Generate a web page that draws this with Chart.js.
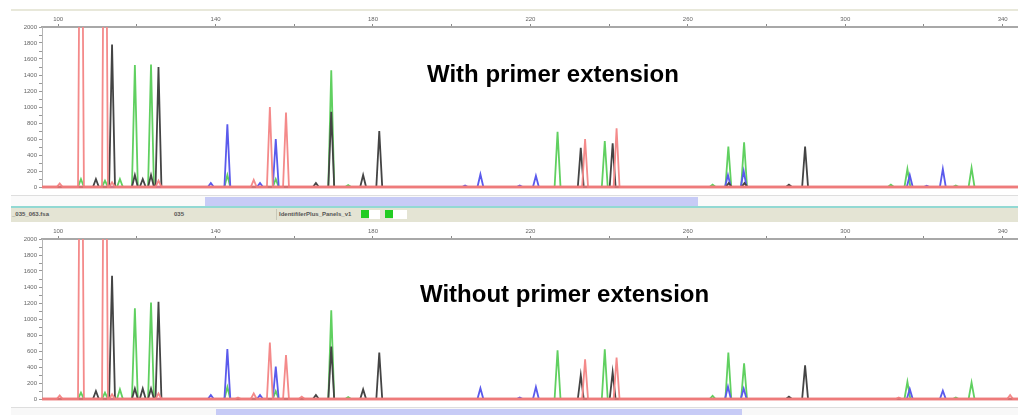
<!DOCTYPE html>
<html>
<head>
<meta charset="utf-8">
<script src="https://cdn.jsdelivr.net/npm/chart.js@4/dist/chart.umd.min.js"></script>
<style>
    body { margin: 0; background: #fff; font-family: "Liberation Sans", Arial, sans-serif; }
    #page { position: relative; width: 1018px; height: 415px; overflow: hidden; }
    canvas { position: absolute; left: 0; }
    .bar { position: absolute; }
    .title { position: absolute; font-size: 24px; line-height: 24px; font-weight: bold; color: #000; white-space: nowrap; }
    .info { position: absolute; top: 210px; font-size: 6px; line-height: 9px; font-weight: bold; color: #555; white-space: nowrap; }
</style>
</head>
<body>
<div id="page">
    <div class="bar" style="left:11px;top:9px;width:1007px;height:2px;background:#e8e8da"></div>
    <canvas id="withChart" width="1018" height="184" style="top:11px"></canvas>

    <div class="bar" style="left:11px;top:195px;width:1007px;height:11px;background:#fafafa;border-top:1px solid #dedede"></div>
    <div class="bar" style="left:205px;top:197px;width:493px;height:9px;background:#c7cbf6"></div>
    <div class="bar" style="left:11px;top:206px;width:1007px;height:2px;background:#92d9d3"></div>
    <div class="bar" style="left:11px;top:208px;width:1007px;height:14px;background:#e4e4d4"></div>
    <div class="bar" style="left:276px;top:209px;width:1px;height:11px;background:#c8c8b8"></div>
    <span class="info" style="left:12px">_035_063.fsa</span>
    <span class="info" style="left:174px">035</span>
    <span class="info" style="left:279px">IdentifilerPlus_Panels_v1</span>
    <div class="bar" style="left:361px;top:210px;width:8px;height:8px;background:#22cc22"></div>
    <div class="bar" style="left:369px;top:210px;width:11px;height:9px;background:#fff"></div>
    <div class="bar" style="left:385px;top:210px;width:8px;height:8px;background:#22cc22"></div>
    <div class="bar" style="left:393px;top:210px;width:14px;height:9px;background:#fff"></div>

    <canvas id="withoutChart" width="1018" height="183" style="top:222px"></canvas>

    <div class="bar" style="left:11px;top:407px;width:1007px;height:8px;background:#f8f8f8;border-top:1px solid #dedede"></div>
    <div class="bar" style="left:216px;top:409px;width:526px;height:6px;background:#c7cbf6"></div>

    <div class="title" style="left:427px;top:62px">With primer extension</div>
    <div class="title" style="left:420px;top:282px">Without primer extension</div>
</div>

<script>
// size range (bp) and ticks
var X_MIN = 95.9;
var X_MAX = 343.9;
var xTicks = [100, 120, 140, 160, 180, 200, 220, 240, 260, 280, 300, 320, 340];
var xLabels = [100, 140, 180, 220, 260, 300, 340];
var yTicks = [0, 100, 200, 300, 400, 500, 600, 700, 800, 900, 1000,
    1100, 1200, 1300, 1400, 1500, 1600, 1700, 1800, 1900, 2000];
var yLabels = [0, 200, 400, 600, 800, 1000, 1200, 1400, 1600, 1800, 2000];

// peaks [size, height] - with primer extension
var withRed = [[100.4, 45], [105.8, 6000], [111.9, 6000], [113.7, 60], [125.5, 80], [149.7, 90],
    [153.8, 1000], [157.9, 930], [233.9, 600], [241.9, 735]];
var withGreen = [[105.8, 100], [111.9, 80], [115.7, 100], [119.5, 1525], [123.6, 1530], [143.0, 150],
    [155.3, 100], [169.4, 1460], [173.7, 25], [226.9, 690], [238.9, 575], [266.3, 30], [270.3, 505],
    [274.3, 560], [311.6, 30], [315.8, 225], [328.1, 20], [332.1, 240]];
var withBlack = [[109.6, 100], [113.7, 1780], [119.5, 150], [121.5, 100], [123.6, 150], [125.5, 1500],
    [165.5, 50], [169.4, 940], [177.5, 150], [181.6, 700], [232.8, 490], [240.9, 545], [270.4, 50],
    [274.4, 50], [285.7, 30], [289.8, 505]];
var withBlue = [[138.8, 50], [143.0, 785], [151.3, 50], [155.3, 600], [203.4, 20], [207.3, 160],
    [217.3, 20], [221.4, 140], [270.2, 150], [274.2, 200], [316.4, 150], [320.7, 15], [324.8, 225]];

// peaks [size, height] - without primer extension
var withoutRed = [[100.4, 45], [105.8, 6000], [111.9, 6000], [113.7, 60], [125.5, 70], [145.7, 20],
    [149.7, 70], [153.8, 705], [157.9, 550], [161.9, 30], [233.9, 495], [241.9, 517], [313.6, 20],
    [341.9, 50]];
var withoutGreen = [[105.8, 80], [111.9, 80], [115.7, 120], [119.5, 1135], [123.6, 1205], [143.0, 150],
    [155.3, 100], [169.4, 1110], [173.7, 25], [226.9, 610], [238.9, 620], [266.3, 40], [270.3, 580],
    [274.3, 445], [315.8, 215], [328.1, 20], [332.1, 205]];
var withoutBlack = [[109.6, 100], [113.7, 1540], [119.5, 130], [121.5, 130], [123.6, 130], [125.5, 1215],
    [165.5, 50], [169.4, 655], [177.5, 120], [181.6, 580], [232.8, 300], [240.9, 335], [285.7, 30],
    [289.8, 420]];
var withoutBlue = [[138.8, 50], [143.0, 625], [151.3, 50], [155.3, 405], [207.3, 135], [217.3, 20],
    [221.4, 150], [270.2, 155], [274.2, 130], [316.4, 125], [324.8, 105]];

var dyeColors = {
    red: '#f48a8a',
    green: '#60d060',
    blue: '#5a5aec',
    black: '#444444'
};

var PEAK_HALF = 0.75;

function buildTrace(peaks) {
    var pts = [{x: X_MIN, y: 0}];
    peaks.slice().sort(function (a, b) { return a[0] - b[0]; }).forEach(function (p) {
        pts.push({x: p[0] - PEAK_HALF, y: 0});
        pts.push({x: p[0], y: p[1]});
        pts.push({x: p[0] + PEAK_HALF, y: 0});
    });
    pts.push({x: X_MAX, y: 0});
    return pts;
}

function dyeSet(peaks, color, order) {
    return {
        data: buildTrace(peaks),
        borderColor: color,
        borderWidth: 1.8,
        pointRadius: 0,
        tension: 0,
        fill: false,
        order: order,
        clip: {left: 0, top: 0, right: 0, bottom: 4}
    };
}

function drawPanel(id, red, green, blue, black, axisHeight, bottomPad) {
    var ctx = document.getElementById(id).getContext('2d');
    return new Chart(ctx, {
        type: 'line',
        data: {
            datasets: [
                {
                    data: [{x: X_MIN, y: 0}, {x: X_MAX, y: 0}],
                    borderColor: 'rgba(236, 120, 120, 0.85)',
                    borderWidth: 3,
                    pointRadius: 0,
                    order: 0,
                    clip: {left: 0, top: 0, right: 0, bottom: 4}
                },
                dyeSet(red, dyeColors.red, 1),
                dyeSet(black, dyeColors.black, 2),
                dyeSet(blue, dyeColors.blue, 3),
                dyeSet(green, dyeColors.green, 4)
            ]
        },
        options: {
            responsive: false,
            animation: false,
            layout: {padding: {left: 0, right: 0, top: 0, bottom: bottomPad}},
            plugins: {legend: {display: false}, tooltip: {enabled: false}},
            scales: {
                x: {
                    type: 'linear',
                    position: 'top',
                    min: X_MIN,
                    max: X_MAX,
                    afterBuildTicks: function (s) {
                        s.ticks = xTicks.map(function (v) { return {value: v}; });
                    },
                    afterFit: function (s) { s.height = axisHeight; },
                    ticks: {
                        autoSkip: false,
                        maxRotation: 0,
                        padding: 1,
                        color: '#666',
                        font: {size: 6, family: 'Liberation Sans'},
                        callback: function (v) { return xLabels.indexOf(v) >= 0 ? String(v) : ''; }
                    },
                    grid: {drawOnChartArea: false, tickLength: 3, color: '#8a8a8a'},
                    border: {color: '#a8a8a8', width: 2}
                },
                y: {
                    min: 0,
                    max: 2000,
                    afterBuildTicks: function (s) {
                        s.ticks = yTicks.map(function (v) { return {value: v}; });
                    },
                    afterFit: function (s) { s.width = 42; },
                    ticks: {
                        autoSkip: false,
                        padding: 2,
                        color: '#666',
                        font: {size: 6, family: 'Liberation Sans'},
                        callback: function (v) { return yLabels.indexOf(v) >= 0 ? String(v) : ''; }
                    },
                    grid: {drawOnChartArea: false, tickLength: 3, color: '#999'},
                    border: {color: '#b4b4b4', width: 1}
                }
            }
        }
    });
}

drawPanel('withChart', withRed, withGreen, withBlue, withBlack, 16, 8);
drawPanel('withoutChart', withoutRed, withoutGreen, withoutBlue, withoutBlack, 17, 6);
</script>
</body>
</html>
